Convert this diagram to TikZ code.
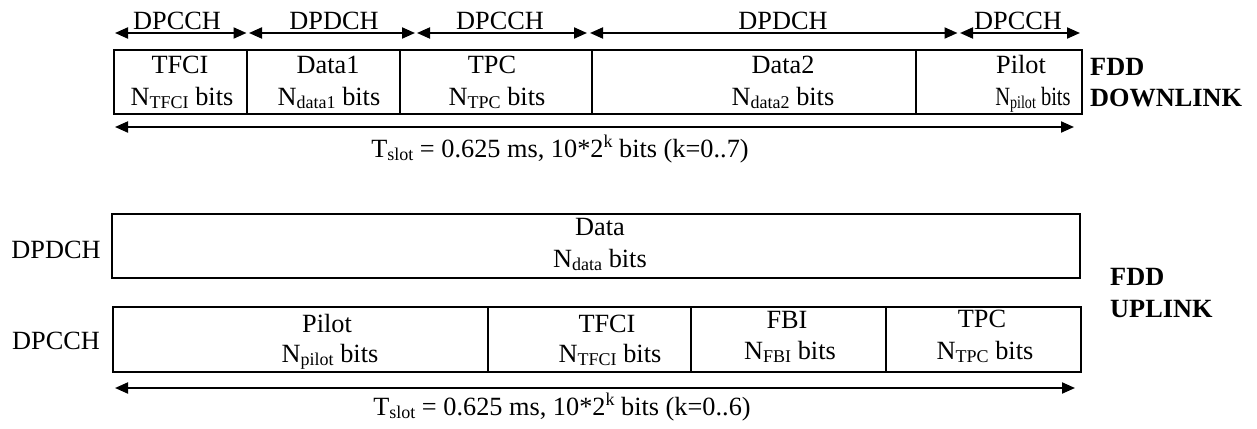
\documentclass[tikz,border=0pt]{standalone}
\usepackage{fontspec}
\setmainfont{Liberation Serif}
\usetikzlibrary{arrows.meta}
\newcommand{\lsub}[1]{\raisebox{-3.6pt}{\fontsize{18}{18}\selectfont #1}}
\newcommand{\lsup}[1]{\raisebox{10pt}{\fontsize{18}{18}\selectfont #1}}
\tikzset{
  every node/.style={font=\fontsize{26.3}{30}\selectfont, inner sep=0pt},
  txt/.style={anchor=base},
  btxt/.style={anchor=base west, font=\fontsize{26.3}{30}\selectfont\bfseries},
  cell/.style={draw, line width=2pt, anchor=north west, minimum height=#1},
  dim/.style={line width=2pt, {Triangle[length=13pt,width=11pt]}-{Triangle[length=13pt,width=11pt]}},
}
\begin{document}
\begin{tikzpicture}[x=1pt,y=-1pt]
\useasboundingbox (0,0) rectangle (1257,428);
% ---------------- DOWNLINK ----------------
\node[cell=64pt, minimum width=133pt] (dTFCI) at (113,49) {};
\node[cell=64pt, minimum width=153pt] (dData1) at (246,49) {};
\node[cell=64pt, minimum width=191.5pt] (dTPC) at (399,49) {};
\node[cell=64pt, minimum width=324pt] (dData2) at (590.5,49) {};
\node[cell=64pt, minimum width=166pt] (dPilot) at (914.5,49) {};

\coordinate (t0) at (115,33);
\coordinate (t1) at (246.5,33);
\coordinate (t1b) at (249,33);
\coordinate (t2) at (415,33);
\coordinate (t2b) at (417,33);
\coordinate (t3) at (587,33);
\coordinate (t3b) at (590,33);
\coordinate (t4) at (957.5,33);
\coordinate (t4b) at (960,33);
\coordinate (t5) at (1080,33);
\draw[dim] (t0) -- (t1);
\draw[dim] (t1b) -- (t2);
\draw[dim] (t2b) -- (t3);
\draw[dim] (t3b) -- (t4);
\draw[dim] (t4b) -- (t5);

\node[txt] (lb1) at (177,30) {DPCCH};
\node[txt] (lb2) at (334,30) {DPDCH};
\node[txt] (lb3) at (500,30) {DPCCH};
\node[txt] (lb4) at (783,30) {DPDCH};
\node[txt] (lb5) at (1018,30) {DPCCH};

\node[txt] (dt1a) at (180,74) {TFCI};
\node[txt] (dt1b) at (182,105) {N\lsub{TFCI} bits};
\node[txt] (dt2a) at (328,74) {Data1};
\node[txt] (dt2b) at (329,105) {N\lsub{data1} bits};
\node[txt] (dt3a) at (492,74) {TPC};
\node[txt] (dt3b) at (497,105) {N\lsub{TPC} bits};
\node[txt] (dt4a) at (783,74) {Data2};
\node[txt] (dt4b) at (783,105) {N\lsub{data2} bits};
\node[txt] (dt5a) at (1021,74) {Pilot};
\node[txt] (dt5b) at (1033,105) {\scalebox{0.78}[1]{N\lsub{pilot} bits}};

\node[btxt] (fdd1) at (1090,75) {FDD};
\node[btxt] (dl) at (1090,106) {DOWNLINK};

\coordinate (dl0) at (115,127);
\coordinate (dl1) at (1074,127);
\draw[dim] (dl0) -- (dl1);
\node[txt] (dts) at (560,157) {T\lsub{slot} = 0.625 ms, 10*2\lsup{k} bits (k=0..7)};

% ---------------- UPLINK ----------------
\node[cell=64pt, minimum width=968pt] (uData) at (111,213) {};
\node[txt] (udA) at (600,235) {Data};
\node[txt] (udB) at (600,267) {N\lsub{data} bits};
\node[txt] (ulab1) at (56,258) {DPDCH};

\node[cell=65pt, minimum width=375pt] (uPilot) at (112,306) {};
\node[cell=65pt, minimum width=203pt] (uTFCI) at (487,306) {};
\node[cell=65pt, minimum width=195pt] (uFBI) at (690,306) {};
\node[cell=65pt, minimum width=195pt] (uTPC) at (885,306) {};
\node[txt] (ulab2) at (56,349) {DPCCH};

\node[txt] (up1a) at (327,332) {Pilot};
\node[txt] (up1b) at (330,362) {N\lsub{pilot} bits};
\node[txt] (up2a) at (607,332) {TFCI};
\node[txt] (up2b) at (610,362) {N\lsub{TFCI} bits};
\node[txt] (up3a) at (787,328) {FBI};
\node[txt] (up3b) at (790,359) {N\lsub{FBI} bits};
\node[txt] (up4a) at (982,327) {TPC};
\node[txt] (up4b) at (985,359) {N\lsub{TPC} bits};

\node[btxt] (fdd2) at (1110,285) {FDD};
\node[btxt] (ul) at (1110,317) {UPLINK};

\coordinate (ul0) at (115,388);
\coordinate (ul1) at (1075,388);
\draw[dim] (ul0) -- (ul1);
\node[txt] (uts) at (562,415) {T\lsub{slot} = 0.625 ms, 10*2\lsup{k} bits (k=0..6)};
\end{tikzpicture}
\end{document}
